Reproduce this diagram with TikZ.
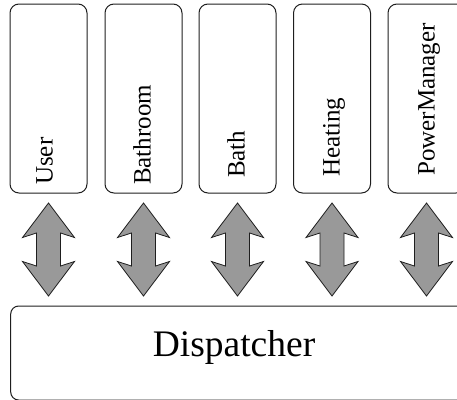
\documentclass[tikz,border=0pt]{standalone}
\usepackage{fontspec}
\setmainfont{Liberation Serif}
\usetikzlibrary{calc}
\definecolor{arrowfill}{RGB}{153,153,153}
\definecolor{edgecol}{RGB}{30,30,30}
\begin{document}
\begin{tikzpicture}[x=1pt,y=-1pt,
  compbox/.style={draw=edgecol, line width=1pt, rounded corners=9pt, minimum width=77pt, minimum height=189pt, inner sep=0pt},
  complabel/.style={rotate=90, anchor=base west, font=\fontsize{25}{25}\selectfont, inner sep=0pt},
  dispbox/.style={draw=edgecol, line width=1pt, rounded corners=8pt, minimum width=480pt, minimum height=94pt, inner sep=0pt},
  dblarrow/.pic={\draw[draw=edgecol, line width=0.8pt, fill=arrowfill, line join=miter]
     (0,46.5) -- (26,12) -- (12,16.5) -- (12,-16.5) -- (26,-12) -- (0,-46.5)
     -- (-26,-12) -- (-12,-16.5) -- (-12,16.5) -- (-26,12) -- cycle;}
]
\useasboundingbox (0,0) rectangle (457,399);
\clip (0,0) rectangle (457,399);

\node[compbox] (user) at (48.5,98.5) {};
\node[compbox] (bathroom) at (143.5,98.5) {};
\node[compbox] (bath) at (237.5,98.5) {};
\node[compbox] (heating) at (332,98.5) {};
\node[compbox] (power) at (426.5,98.5) {};

\node[complabel] (userlbl) at (52.5,185) {User};
\node[complabel] (bathroomlbl) at (150.5,185) {Bathroom};
\node[complabel] (bathlbl) at (244.5,178) {Bath};
\node[complabel] (heatinglbl) at (339.5,177) {Heating};
\node[complabel] (powerlbl) at (434.5,176) {PowerManager};

\node[dispbox] (disp) at (250.7,353) {};
\node[font=\fontsize{37.5}{37.5}\selectfont, anchor=base, inner sep=0pt] (displbl) at (234,356) {Dispatcher};

\foreach \b in {user,bathroom,bath,heating,power}{
  \pic at ($(\b.south)!0.5!(\b.south|-disp.north)$) {dblarrow};
}
\end{tikzpicture}
\end{document}
